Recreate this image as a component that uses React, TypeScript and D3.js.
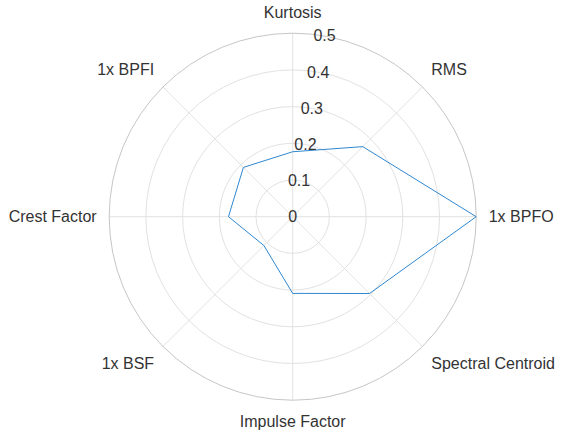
import * as d3 from 'd3';

const features = [
  'Kurtosis',
  'RMS',
  '1x BPFO',
  'Spectral Centroid',
  'Impulse Factor',
  '1x BSF',
  'Crest Factor',
  '1x BPFI',
];
const values = [0.177, 0.27, 0.5, 0.296, 0.209, 0.111, 0.175, 0.19];
const rTicks = [0, 0.1, 0.2, 0.3, 0.4, 0.5];

const width = 561;
const height = 434;
const cx = 292.7;
const cy = 216.7;
const outer = 183.5;
const labelGap = 12.5;

export default function App() {
  const r = d3.scaleLinear().domain([0, 0.5]).range([0, outer]);
  // angle 0 at top, clockwise
  const angle = d3
    .scaleLinear()
    .domain([0, features.length])
    .range([0, 2 * Math.PI]);

  const pt = (a: number, rad: number): [number, number] => [
    cx + rad * Math.sin(a),
    cy - rad * Math.cos(a),
  ];

  const line = d3
    .lineRadial<number>()
    .angle((_, i) => angle(i))
    .radius((d) => r(d))
    .curve(d3.curveLinearClosed);

  // r tick labels sit along a ray 10 degrees clockwise from the top
  const tickAngle = (10 * Math.PI) / 180;

  return (
    <svg
      width={width}
      height={height}
      style={{ position: 'absolute', left: 0, top: 0, fontFamily: 'Liberation Sans, Arial, sans-serif' }}
    >
      <rect width={width} height={height} fill="#fff" />
      {/* spokes */}
      {features.map((f, i) => {
        const [x2, y2] = pt(angle(i), outer);
        return (
          <line key={f} x1={cx} y1={cy} x2={x2} y2={y2} stroke="#e2e2e2" strokeWidth={1} />
        );
      })}
      {/* rings */}
      {rTicks.slice(1).map((t, i) => (
        <circle
          key={t}
          cx={cx}
          cy={cy}
          r={r(t)}
          fill="none"
          stroke={i === rTicks.length - 2 ? '#c6c6c6' : '#e2e2e2'}
          strokeWidth={1}
        />
      ))}
      {/* data */}
      <path
        d={line(values) ?? ''}
        transform={`translate(${cx},${cy})`}
        fill="none"
        stroke="#2f88d0"
        strokeWidth={1}
        strokeLinejoin="round"
      />
      {/* r tick labels */}
      {rTicks.map((t) => {
        const [x, y] = pt(tickAngle, r(t));
        return (
          <text
            key={t}
            x={x}
            y={y}
            textAnchor="middle"
            dominantBaseline="central"
            fontSize={16}
            fill="#333"
          >
            {t === 0 ? '0' : d3.format('.1f')(t)}
          </text>
        );
      })}
      {/* theta labels */}
      {features.map((f, i) => {
        const a = angle(i);
        const [x, y] = pt(a, outer + labelGap);
        const s = Math.sin(a);
        const c = Math.cos(a);
        const anchor = Math.abs(s) < 0.01 ? 'middle' : s > 0 ? 'start' : 'end';
        const baseline =
          Math.abs(c) < 0.01 ? 'central' : c > 0 ? 'text-after-edge' : 'text-before-edge';
        return (
          <text
            key={f}
            x={x}
            y={y}
            textAnchor={anchor}
            dominantBaseline={baseline}
            fontSize={16}
            fill="#333"
          >
            {f}
          </text>
        );
      })}
    </svg>
  );
}
